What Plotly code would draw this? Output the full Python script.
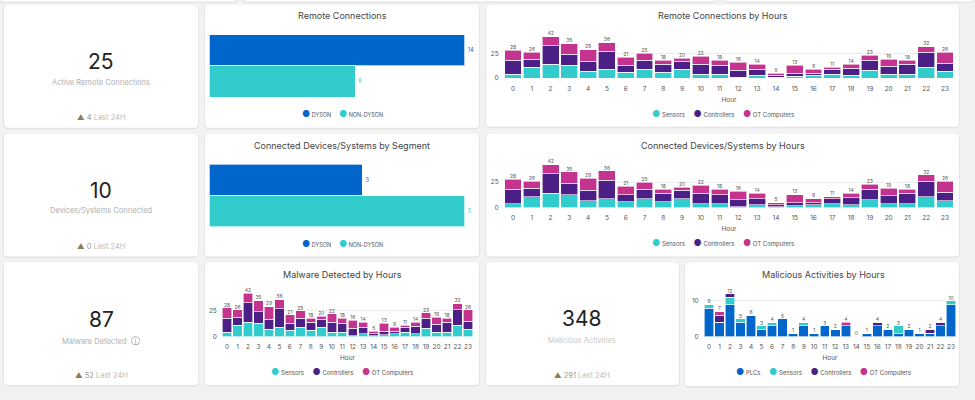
import plotly.graph_objects as go

W, H = 975, 400

# ---------------- data ----------------
seg_categories = ["DYSON", "NON-DYSON"]
remote_conn_values = [14, 8]
devices_values = [3, 5]

hours = list(range(24))
hour_labels = [str(h) for h in hours]
series_names = ["Sensors", "Controllers", "OT Computers"]
sensors = [4, 11, 14, 13, 7, 9, 6, 9, 6, 9, 4, 4, 1, 3, 1, 2, 3, 4, 3, 8, 4, 4, 11, 7]
controllers = [14, 8, 19, 11, 10, 18, 7, 9, 8, 8, 10, 9, 7, 6, 2, 3, 2, 5, 7, 10, 8, 10, 15, 8]
ot_computers = [10, 7, 9, 11, 12, 9, 8, 7, 4, 3, 8, 5, 8, 5, 2, 8, 4, 2, 4, 5, 7, 4, 6, 11]

mal_names = ["PLCs", "Sensors", "Controllers", "OT Computers"]
mal_plcs = [8, 4, 9, 4, 6, 2, 3, 5, 1, 3, 1, 3, 2, 3, 0, 1, 3, 2, 1, 2, 1, 1, 3, 9]
mal_sensors = [1, 0, 2, 1, 0, 1, 1, 0, 0, 1, 0, 0, 0, 0, 0, 0, 0, 0, 2, 0, 0, 0, 0, 1]
mal_controllers = [0, 2, 1, 0, 0, 0, 0, 0, 0, 0, 0, 0, 0, 0, 0, 0, 1, 0, 0, 0, 0, 1, 1, 0]
mal_ot = [0, 1, 0, 0, 0, 0, 0, 0, 0, 0, 0, 0, 0, 1, 0, 0, 0, 0, 0, 0, 0, 0, 0, 0]

kpi_values = ["25", "10", "87", "348"]
kpi_labels = ["Active Remote Connections", "Devices/Systems Connected", "Malware Detected", "Malicious Activities"]
kpi_deltas = ["4", "0", "52", "291"]

# ---------------- style ----------------
FONT = "Inter, Noto Sans, sans-serif"
BLUE = "#0066CC"
TEAL = "#33CCCC"
PURPLE = "#4B1F85"
MAGENTA = "#C4338D"
BG = "#f2f2f2"
TITLE_C = "#444444"
TICK_C = "#555555"


def px(x):
    return x / W


def py(y):
    return 1 - y / H


def rrect(x0, y0, x1, y1, r=4):
    rx, ry = r / W, r / H
    X0, X1 = px(x0), px(x1)
    Yt, Yb = py(y0), py(y1)
    return (f"M {X0+rx},{Yt} L {X1-rx},{Yt} Q {X1},{Yt} {X1},{Yt-ry} "
            f"L {X1},{Yb+ry} Q {X1},{Yb} {X1-rx},{Yb} L {X0+rx},{Yb} "
            f"Q {X0},{Yb} {X0},{Yb+ry} L {X0},{Yt-ry} Q {X0},{Yt} {X0+rx},{Yt} Z")


fig = go.Figure()
shapes = []
annotations = []


def card(x0, y0, x1, y1):
    shapes.append(dict(type="path", xref="paper", yref="paper", layer="below",
                       path=rrect(x0 - 1, y0, x1 + 1, y1 + 1.5, 5),
                       fillcolor="rgba(0,0,0,0.05)", line=dict(width=0)))
    shapes.append(dict(type="path", xref="paper", yref="paper", layer="below",
                       path=rrect(x0, y0, x1, y1, 4),
                       fillcolor="white", line=dict(width=0)))


# partial cards at the very top (bottoms of cards above)
for a, b in [(0, 237), (243, 716), (724, 975)]:
    card(a, -10, b, 1.5)

cards = [
    (4, 5, 198, 129), (205, 5, 479, 129), (486, 5, 959, 128),
    (4, 135, 198, 259), (205, 135, 479, 259), (486, 135, 959, 259),
    (4, 265, 198, 389), (205, 265, 479, 389), (486, 265, 679, 389), (685, 265, 959, 390),
]
for c in cards:
    card(*c)


def text(x, y, s, size, color, xanchor="center"):
    annotations.append(dict(x=px(x), y=py(y), xref="paper", yref="paper", text=s,
                            showarrow=False, xanchor=xanchor, yanchor="middle",
                            font=dict(family=FONT, size=size, color=color)))


def legend_text(names, colors):
    parts = []
    for n, c in zip(names, colors):
        parts.append(f'<span style="color:{c};font-size:9px">●</span> {n}')
    return "&nbsp;&nbsp;&nbsp;&nbsp;&nbsp;".join(parts)


# ---------------- KPI cards ----------------
kpi_pos = [(101, 62, 83, 119), (101, 192, 213, 249), (101, 323, 344, 379), (582, 322, 344, 379)]
for i, (cx, yn, yl, yd) in enumerate(kpi_pos):
    text(cx, yn, kpi_values[i], 21, "#222222")
    lab = kpi_labels[i]
    if i == 2:
        lab = lab + '&nbsp;&nbsp;<span style="color:#888;font-size:9px">ⓘ</span>'
    text(cx, yl, lab, 7.5, "#b0b0b0" if i != 3 else "#c8c8c8")
    text(cx, yd, f'<span style="color:#8c7b55">▲</span> <span style="color:#999">{kpi_deltas[i]}</span> Last 24H',
         7.5, "#bdbdbd")

# ---------------- horizontal segment bars ----------------
hb_specs = [
    ("", remote_conn_values, "Remote Connections", 0),
    ("2", devices_values, "Connected Devices/Systems by Segment", 131),
]
for sx, vals, title, yoff in hb_specs:
    xa, ya = "x" + sx, "y" + sx
    fig.add_trace(go.Bar(
        x=vals, y=seg_categories, orientation="h", xaxis=xa, yaxis=ya,
        marker=dict(color=[BLUE, TEAL], line=dict(color="rgba(255,255,255,0.7)", width=1)),
        width=1.0, text=[str(v) for v in vals], textposition="outside",
        textfont=dict(family=FONT, size=5.5, color=[BLUE, TEAL]),
        cliponaxis=False, showlegend=False, hoverinfo="x+y"))
    fig.layout["xaxis" + sx] = dict(domain=[px(209), px(475)], range=[0, max(vals) * 1.04],
                                    visible=False, fixedrange=True, anchor=ya)
    fig.layout["yaxis" + sx] = dict(domain=[py(98 + yoff), py(35 + yoff)],
                                    visible=False, autorange="reversed", anchor=xa,
                                    type="category", categoryorder="array",
                                    categoryarray=seg_categories, fixedrange=True)
    text(342, 16 + yoff, title, 9, TITLE_C)
    text(342, 115 + yoff, legend_text(seg_categories, [BLUE, TEAL]), 5.5, "#555")

# ---------------- hourly stacked charts ----------------
totals = [a + b + c for a, b, c in zip(sensors, controllers, ot_computers)]
hour_specs = [
    # axis suffix, x0 px, x1 px, y zero px, y top px, px/unit, title, title y, title x, legend y
    ("3", 503.6, 954.4, 79, 30, 1.0, "Remote Connections by Hours", 16, 723, 115),
    ("4", 503.6, 954.4, 210, 161, 1.04, "Connected Devices/Systems by Hours", 147, 723, 245),
    ("5", 221.8, 473.2, 340, 290, 1.04, "Malware Detected by Hours", 277, 342, 375),
]
for sfx, x0, x1, y0, y1, ppu, title, ty, tx, ly in hour_specs:
    xa, ya = "x" + sfx, "y" + sfx
    for name, vals, col in zip(series_names, [sensors, controllers, ot_computers], [TEAL, PURPLE, MAGENTA]):
        fig.add_trace(go.Bar(x=hours, y=vals, name=name, xaxis=xa, yaxis=ya, width=0.9,
                             marker=dict(color=col, line=dict(color="white", width=0.6)),
                             showlegend=False))
    fig.add_trace(go.Scatter(x=hours, y=totals, mode="text", text=[str(t) for t in totals],
                             textposition="top center", xaxis=xa, yaxis=ya, cliponaxis=False,
                             textfont=dict(family=FONT, size=5, color="#555"),
                             showlegend=False, hoverinfo="skip"))
    fig.layout["xaxis" + sfx] = dict(
        domain=[px(x0), px(x1)], range=[-0.5, 23.5], anchor=ya,
        tickmode="array", tickvals=hours, ticktext=hour_labels,
        tickfont=dict(family=FONT, size=6.5, color=TICK_C), ticklabelstandoff=5,
        showgrid=False, zeroline=False, showline=False, fixedrange=True,
        title=dict(text="Hour", font=dict(family=FONT, size=6.5, color=TICK_C), standoff=5))
    fig.layout["yaxis" + sfx] = dict(
        domain=[py(y0), py(y1)], range=[0, (y0 - y1) / ppu], anchor=xa,
        tickmode="array", tickvals=[0, 25], ticktext=["0", "25"],
        tickfont=dict(family=FONT, size=6.5, color=TICK_C), ticklabelstandoff=4,
        showgrid=True, gridcolor="#ededed", gridwidth=1, zeroline=False, fixedrange=True)
    text(tx, ty, title, 9, TITLE_C)
    text(tx, ly, legend_text(series_names, [TEAL, PURPLE, MAGENTA]), 6, "#555")

# ---------------- malicious activities ----------------
mal_totals = [a + b + c + d for a, b, c, d in zip(mal_plcs, mal_sensors, mal_controllers, mal_ot)]
for name, vals, col in zip(mal_names, [mal_plcs, mal_sensors, mal_controllers, mal_ot],
                           [BLUE, TEAL, PURPLE, MAGENTA]):
    fig.add_trace(go.Bar(x=hours, y=vals, name=name, xaxis="x6", yaxis="y6", width=0.9,
                         marker=dict(color=col, line=dict(color="white", width=0.6)),
                         showlegend=False))
fig.add_trace(go.Scatter(x=hours, y=mal_totals, mode="text", text=[str(t) for t in mal_totals],
                         textposition="top center", xaxis="x6", yaxis="y6", cliponaxis=False,
                         textfont=dict(family=FONT, size=5, color="#555"),
                         showlegend=False, hoverinfo="skip"))
fig.layout["xaxis6"] = dict(
    domain=[px(703.7), px(956.3)], range=[-0.5, 23.5], anchor="y6",
    tickmode="array", tickvals=hours, ticktext=hour_labels,
    tickfont=dict(family=FONT, size=6.5, color=TICK_C), ticklabelstandoff=5,
    showgrid=False, zeroline=False, showline=False, fixedrange=True,
    title=dict(text="Hour", font=dict(family=FONT, size=6.5, color=TICK_C), standoff=5))
fig.layout["yaxis6"] = dict(
    domain=[py(340), py(290)], range=[0, (340 - 290) / 3.6], anchor="x6",
    tickmode="array", tickvals=[0, 10], ticktext=["0", "10"],
    tickfont=dict(family=FONT, size=6.5, color=TICK_C), ticklabelstandoff=4,
    showgrid=True, gridcolor="#ededed", gridwidth=1, zeroline=False, fixedrange=True)
text(823, 277, "Malicious Activities by Hours", 9, TITLE_C)
text(823, 375, legend_text(mal_names, [BLUE, TEAL, PURPLE, MAGENTA]), 6, "#555")

fig.update_layout(
    width=W, height=H, margin=dict(l=0, r=0, t=0, b=0),
    paper_bgcolor=BG, plot_bgcolor="rgba(0,0,0,0)",
    barmode="stack", showlegend=False,
    font=dict(family=FONT, color=TICK_C),
    shapes=shapes, annotations=annotations,
)

fig.write_html("out.html", config={"displayModeBar": False},
               post_script="document.body.style.margin='0';document.body.style.overflow='hidden';")
